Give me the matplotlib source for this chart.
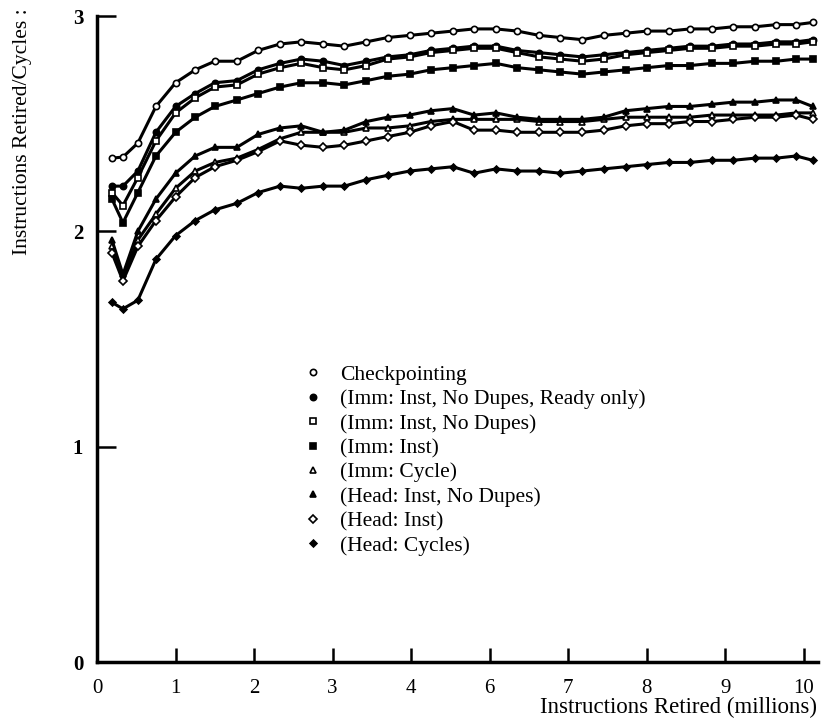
import matplotlib
matplotlib.use('Agg')
import matplotlib.pyplot as plt
from matplotlib.lines import Line2D

plt.rcParams['font.family'] = ['Liberation Serif', 'DejaVu Serif']

# x positions along the axis (tick spacing = 1); tick labels as printed in the figure
x_pos = [0.19, 0.33, 0.52, 0.75, 1.0, 1.25, 1.5, 1.78, 2.05, 2.33, 2.6, 2.88,
         3.15, 3.43, 3.7, 3.98, 4.25, 4.53, 4.8, 5.08, 5.35, 5.63, 5.9, 6.18,
         6.45, 6.73, 7.0, 7.28, 7.55, 7.83, 8.1, 8.38, 8.65, 8.9, 9.11]
xtick_labels = ['0', '1', '2', '3', '4', '6', '7', '8', '9', '10']
ytick_vals = [0, 1, 2, 3]

checkpointing = [2.34, 2.345, 2.41, 2.58, 2.69, 2.75, 2.79, 2.79, 2.84, 2.87, 2.88, 2.87,
                 2.86, 2.88, 2.90, 2.91, 2.92, 2.93, 2.94, 2.94, 2.93, 2.91, 2.90, 2.89,
                 2.91, 2.92, 2.93, 2.93, 2.94, 2.94, 2.95, 2.95, 2.96, 2.96, 2.97]
imm_nodupes_ready = [2.21, 2.21, 2.28, 2.46, 2.58, 2.64, 2.69, 2.70, 2.75, 2.78, 2.80, 2.79,
                     2.77, 2.79, 2.81, 2.82, 2.84, 2.85, 2.86, 2.86, 2.84, 2.83, 2.82, 2.81,
                     2.82, 2.83, 2.84, 2.85, 2.86, 2.86, 2.87, 2.87, 2.88, 2.88, 2.89]
imm_nodupes = [2.18, 2.12, 2.25, 2.42, 2.55, 2.62, 2.67, 2.68, 2.73, 2.76, 2.78, 2.76,
               2.75, 2.77, 2.80, 2.81, 2.83, 2.84, 2.85, 2.85, 2.83, 2.81, 2.80, 2.79,
               2.80, 2.82, 2.83, 2.84, 2.85, 2.85, 2.86, 2.86, 2.87, 2.87, 2.88]
imm_inst = [2.15, 2.04, 2.18, 2.35, 2.46, 2.53, 2.58, 2.61, 2.64, 2.67, 2.69, 2.69,
            2.68, 2.70, 2.72, 2.73, 2.75, 2.76, 2.77, 2.78, 2.76, 2.75, 2.74, 2.73,
            2.74, 2.75, 2.76, 2.77, 2.77, 2.78, 2.78, 2.79, 2.79, 2.80, 2.80]
imm_cycle = [1.93, 1.78, 1.96, 2.08, 2.20, 2.28, 2.32, 2.34, 2.38, 2.43, 2.46, 2.46,
             2.46, 2.48, 2.48, 2.49, 2.51, 2.52, 2.52, 2.52, 2.52, 2.51, 2.51, 2.51,
             2.52, 2.53, 2.53, 2.53, 2.53, 2.54, 2.54, 2.54, 2.54, 2.55, 2.55]
head_nodupes = [1.96, 1.80, 2.00, 2.15, 2.27, 2.35, 2.39, 2.39, 2.45, 2.48, 2.49, 2.46,
                2.47, 2.51, 2.53, 2.54, 2.56, 2.57, 2.54, 2.55, 2.53, 2.52, 2.52, 2.52,
                2.53, 2.56, 2.57, 2.58, 2.58, 2.59, 2.60, 2.60, 2.61, 2.61, 2.58]
head_inst = [1.90, 1.77, 1.93, 2.05, 2.16, 2.25, 2.30, 2.33, 2.37, 2.42, 2.40, 2.39,
             2.40, 2.42, 2.44, 2.46, 2.49, 2.51, 2.47, 2.47, 2.46, 2.46, 2.46, 2.46,
             2.47, 2.49, 2.50, 2.50, 2.51, 2.51, 2.52, 2.53, 2.53, 2.54, 2.52]
head_cycles = [1.67, 1.64, 1.68, 1.87, 1.98, 2.05, 2.10, 2.13, 2.18, 2.21, 2.20, 2.21,
               2.21, 2.24, 2.26, 2.28, 2.29, 2.30, 2.27, 2.29, 2.28, 2.28, 2.27, 2.28,
               2.29, 2.30, 2.31, 2.32, 2.32, 2.33, 2.33, 2.34, 2.34, 2.35, 2.33]

series = [
    ('Checkpointing', checkpointing, 'o', 'white', 4.5),
    ('(Imm: Inst, No Dupes, Ready only)', imm_nodupes_ready, 'o', 'black', 4.5),
    ('(Imm: Inst, No Dupes)', imm_nodupes, 's', 'white', 4.5),
    ('(Imm: Inst)', imm_inst, 's', 'black', 4.5),
    ('(Imm: Cycle)', imm_cycle, '^', 'white', 5),
    ('(Head: Inst, No Dupes)', head_nodupes, '^', 'black', 5),
    ('(Head: Inst)', head_inst, 'D', 'white', 4),
    ('(Head: Cycles)', head_cycles, 'D', 'black', 3.5),
]

fig = plt.figure(figsize=(8.25, 7.24), dpi=100)
ax = fig.add_axes([0.1176, 0.0856, 0.874, 0.8923])

handles = []
for label, vals, mk, fc, ms in series:
    ax.plot(x_pos, vals, color='black', linewidth=2.2, marker=mk, markersize=ms,
            markerfacecolor=fc, markeredgecolor='black', markeredgewidth=1.2)
    handles.append(Line2D([], [], linestyle='none', marker=mk, markersize=ms,
                          markerfacecolor=fc, markeredgecolor='black',
                          markeredgewidth=1.2))

ax.set_xlim(0, 9.18)
ax.set_ylim(0, 3)
ax.set_xticks(range(len(xtick_labels)))
ax.set_xticklabels(xtick_labels)
ax.set_yticks(ytick_vals)
ax.tick_params(axis='x', direction='in', length=10, width=1.8, labelsize=15, pad=12)
ax.tick_params(axis='y', direction='in', length=14, width=1.8, labelsize=15, pad=10)
for t in ax.get_yticklabels():
    t.set_fontweight('bold')
for s in ['top', 'right']:
    ax.spines[s].set_visible(False)
for s in ['left', 'bottom']:
    ax.spines[s].set_linewidth(2.5)

fig.text(0.99, 0.008, 'Instructions Retired (millions)', ha='right', va='bottom', fontsize=16.5)
fig.text(0.027, 0.988, 'Instructions Retired/Cycles :', ha='center', va='top',
         rotation=90, fontsize=15.5)

ax.legend(handles, [s[0] for s in series], loc='upper left',
          bbox_to_anchor=(0.258, 0.49), frameon=False, fontsize=15.5,
          handletextpad=0.75, labelspacing=0.2, handlelength=1.0)

fig.savefig('out.png', dpi=100)
